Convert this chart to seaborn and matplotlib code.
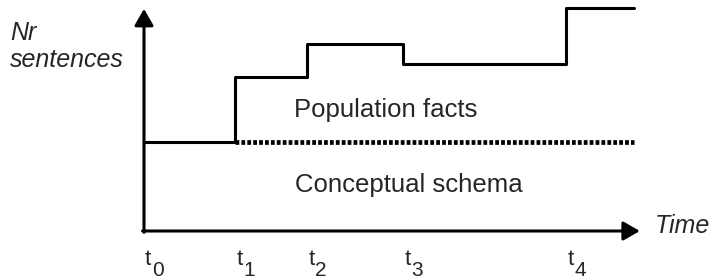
import matplotlib
matplotlib.use('Agg')
import matplotlib.pyplot as plt
import seaborn as sns
import pandas as pd

# ---- data ----
tick_digits = ['0', '1', '2', '3', '4']
change_times = [0, 1.9, 3.4, 5.4, 8.8]
end_time = 10.2
total_sentences = [40, 69, 84, 75, 100]
schema_sentences = 40
schema_dotted_start = 1.9

sns.set_theme(style='white')
plt.rcParams['font.family'] = ['Liberation Sans', 'DejaVu Sans']

W, H = 710, 280
fig = plt.figure(figsize=(W / 100, H / 100), dpi=100)
ax = fig.add_axes([144 / W, (H - 231) / H, (W - 144) / W, 231 / H])
ax.set_xlim(0, 566 / 48)
ax.set_ylim(0, 231 / 2.23)
ax.axis('off')

df = pd.DataFrame({
    'time': change_times + [end_time],
    'sentences': total_sentences + [total_sentences[-1]],
})
sns.lineplot(data=df, x='time', y='sentences', drawstyle='steps-post',
             color='black', lw=2.2, ax=ax, clip_on=False)

dot = pd.DataFrame({'time': [schema_dotted_start, end_time],
                    'sentences': [schema_sentences, schema_sentences]})
sns.lineplot(data=dot, x='time', y='sentences', color='black', lw=3.4,
             linestyle=(0, (0.8, 0.45)), ax=ax, clip_on=False)

arrow_kw = dict(arrowstyle='-|>,head_length=0.4,head_width=0.23', mutation_scale=25,
                lw=2.2, color='black', shrinkA=0, shrinkB=0)
ax.annotate('', xy=(0, 99.6), xytext=(0, -0.6), arrowprops=arrow_kw, annotation_clip=False)
ax.annotate('', xy=(10.33, 0), xytext=(-0.03, 0), arrowprops=arrow_kw, annotation_clip=False)

ax.text(5.03, 51, 'Population facts', ha='center', va='baseline', fontsize=18.5)
ax.text(5.52, 17.5, 'Conceptual schema', ha='center', va='baseline', fontsize=18.5)

for t, d in zip(change_times, tick_digits):
    ax.annotate('t', xy=(t, 0), xycoords='data', xytext=(1, -34), textcoords='offset pixels',
                ha='left', va='baseline', fontsize=16, annotation_clip=False)
    ax.annotate(d, xy=(t, 0), xycoords='data', xytext=(8, -45), textcoords='offset pixels',
                ha='left', va='baseline', fontsize=15, annotation_clip=False)

fig.text(655 / W, 1 - 233 / H, 'Time', style='italic', fontsize=18, va='baseline')
fig.text(10 / W, 1 - 40 / H, 'Nr', style='italic', fontsize=18, va='baseline')
fig.text(10 / W, 1 - 67 / H, 'sentences', style='italic', fontsize=18, va='baseline')

fig.savefig('out.png', dpi=100)
